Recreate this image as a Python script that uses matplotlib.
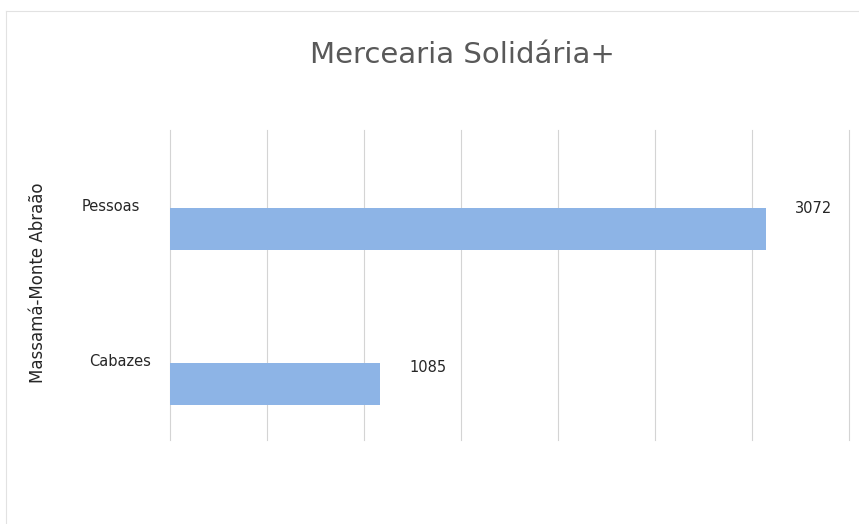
import matplotlib

matplotlib.use("Agg")
import matplotlib.pyplot as plt
from matplotlib.lines import Line2D

# data
categories = ["Cabazes", "Pessoas"]
values = [1085, 3072]
title = "Mercearia Solidária+"
y_label = "Massamá-Monte Abraão"
x_max = 3500
x_step = 500

BAR_COLOR = "#8DB4E6"
GRID_COLOR = "#d4d4d4"
TEXT_COLOR = "#262626"

plt.rcParams["font.family"] = ["DejaVu Sans"]

fig = plt.figure(figsize=(8.59, 5.24), dpi=100)
W, H = 859, 524
# plot area in pixels: x 170..849, y 130..440
ax = fig.add_axes([170 / W, 1 - 440 / H, (849 - 170) / W, (440 - 130) / H])

pos = list(range(len(categories)))
ax.barh(pos, values, height=0.27, color=BAR_COLOR, zorder=2)

ax.set_xlim(0, x_max)
ax.set_ylim(-0.361, 1.639)
ax.set_xticks(range(0, x_max + 1, x_step))
ax.set_xticklabels([])
ax.tick_params(axis="x", length=0)
ax.set_yticks([])
ax.grid(axis="x", color=GRID_COLOR, linewidth=0.8, zorder=0)
for gl in ax.get_xgridlines():
    gl.set_clip_on(False)
for s in ax.spines.values():
    s.set_visible(False)

# category labels sit a little above each bar centre
label_x = [-0.028, -0.044]
for p, name, lx in zip(pos, categories, label_x):
    ax.text(lx, p + 0.145, name, transform=ax.get_yaxis_transform(),
            ha="right", va="center", fontsize=10.5, color=TEXT_COLOR)

label_dy = [12, 15]
for p, v, dy in zip(pos, values, label_dy):
    ax.annotate(str(v), (v, p), xytext=(21, dy), textcoords="offset points",
                ha="left", va="center", fontsize=10.5, color=TEXT_COLOR)

fig.text(38 / W, 1 - 283 / H, y_label, rotation=90, ha="center", va="center",
         fontsize=12, color=TEXT_COLOR)
fig.text(462 / W, 1 - 55 / H, title, ha="center", va="center",
         fontsize=21, color="#595959")

# faint chart border (top and left edges visible in the scan)
fig.add_artist(Line2D([6 / W, 1], [1 - 11 / H, 1 - 11 / H], color="#e2e2e2", linewidth=0.8))
fig.add_artist(Line2D([6 / W, 6 / W], [0, 1 - 11 / H], color="#e2e2e2", linewidth=0.8))

fig.savefig("out.png", dpi=100)
